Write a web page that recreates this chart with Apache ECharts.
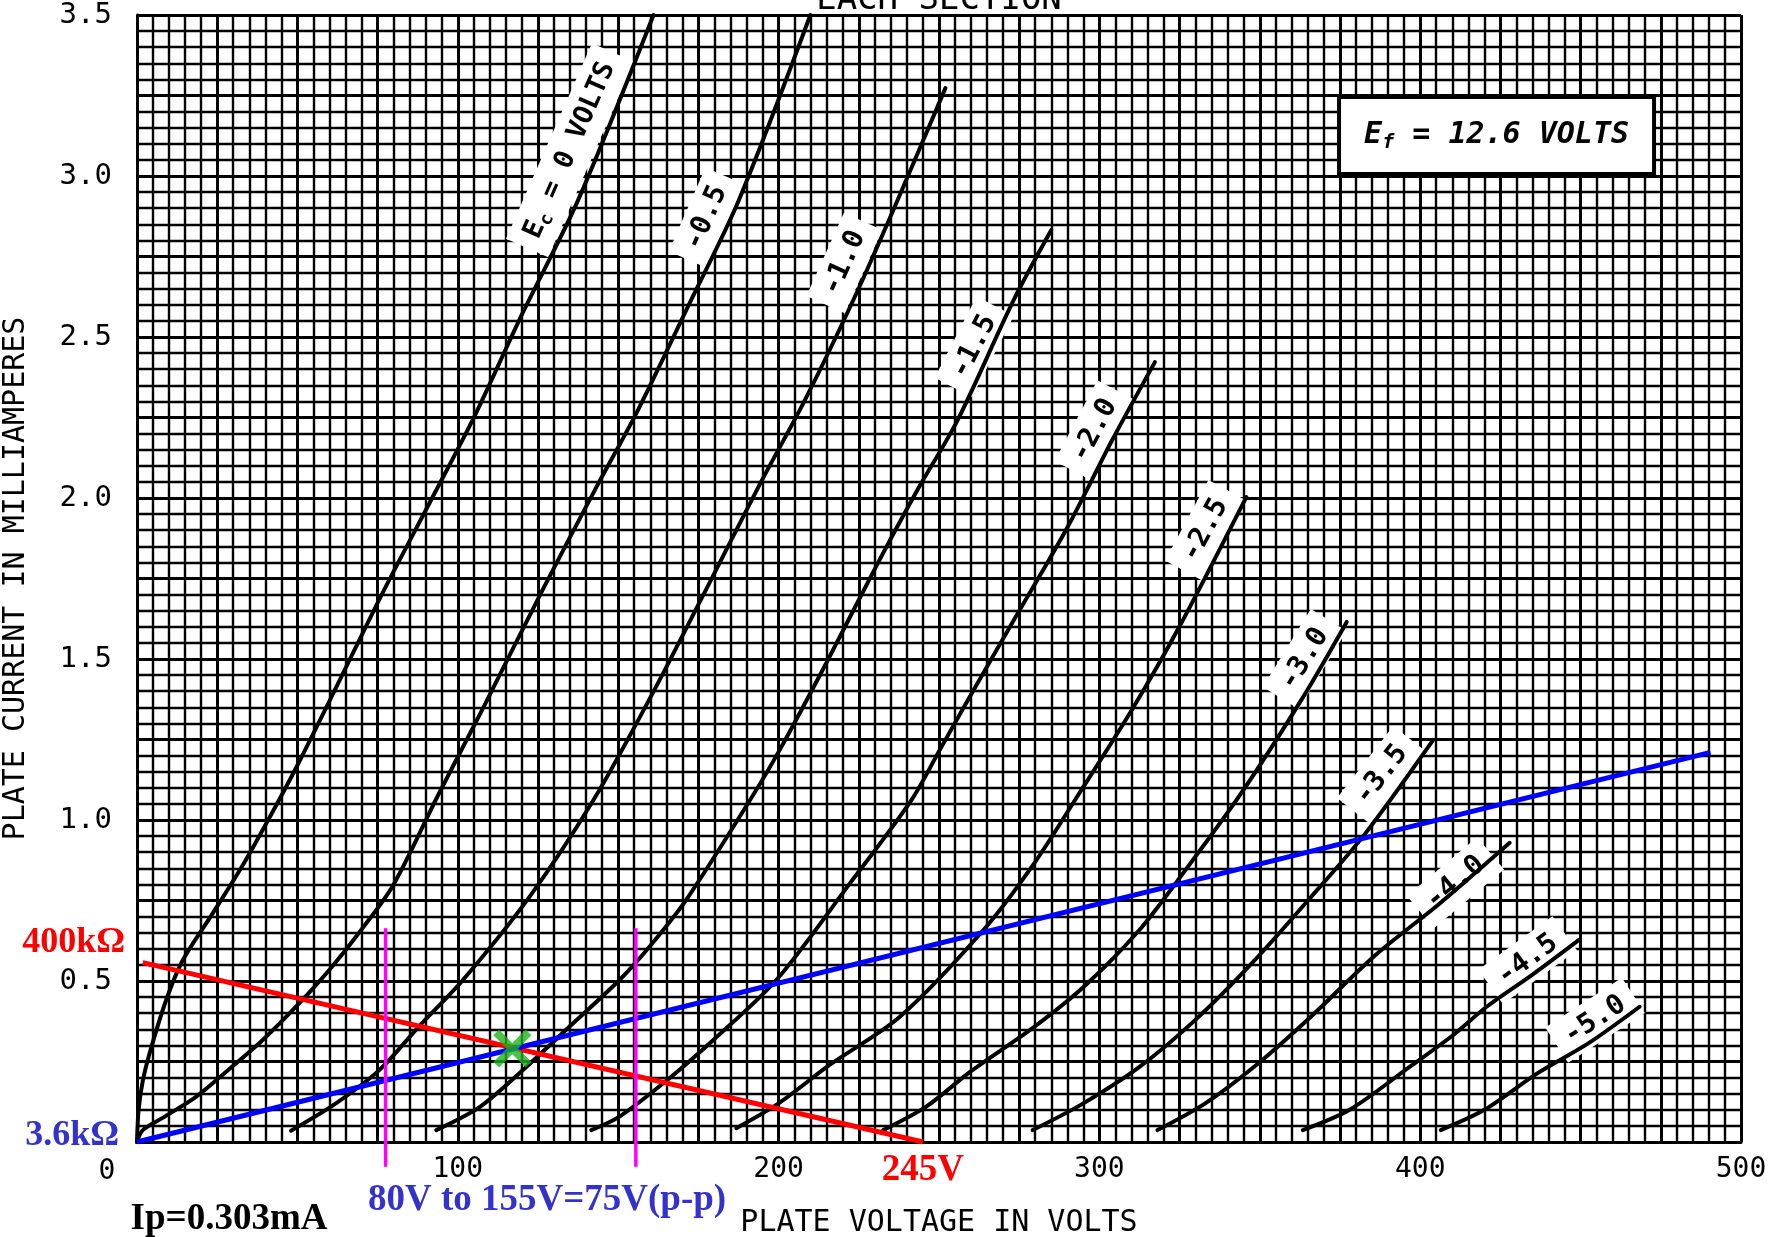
<!DOCTYPE html>
<html><head><meta charset="utf-8">
<script src="https://cdn.jsdelivr.net/npm/echarts@6/dist/echarts.min.js"></script>
<style>html,body{margin:0;padding:0;background:#fff}#c{width:1782px;height:1237px}</style>
</head><body><div id="c"></div>
<script>
// ---------------- data ----------------
const xTickLabels = [100, 200, 300, 400, 500];
const yTickLabels = [0.5, 1.0, 1.5, 2.0, 2.5, 3.0, 3.5];
const curveNames = ['E_c = 0 VOLTS', '-0.5', '-1.0', '-1.5', '-2.0', '-2.5', '-3.0', '-3.5', '-4.0', '-4.5', '-5.0'];

const ec0   = [[0,0],[0.5,0.1],[1.8,0.19],[3.9,0.275],[9.1,0.441],[14.3,0.565],[23.6,0.71],[33,0.86],[42,1.02],[50,1.17],[62,1.41],[77,1.714],[92,2.0],[105.5,2.26],[120,2.57],[137.5,2.925],[161,3.5]];
const ecM05 = [[0,0],[1.8,0.037],[8,0.075],[18.5,0.141],[28,0.22],[39.2,0.317],[50,0.425],[60,0.535],[70,0.66],[80,0.8],[94,1.08],[108,1.35],[126.4,1.714],[143,2.03],[156,2.27],[172,2.6],[187.6,2.925],[209.9,3.5]];
const ecM10 = [[48,0.035],[62,0.12],[75.6,0.224],[88,0.36],[101.6,0.503],[122.4,0.762],[142.3,1.062],[160,1.38],[177.3,1.714],[194,2.04],[208,2.3],[223.3,2.615],[236,2.9],[252,3.273]];
const ecM15 = [[93.3,0.037],[107,0.11],[121,0.23],[135,0.36],[150.4,0.503],[159.8,0.607],[171.2,0.752],[191.1,1.062],[200.3,1.217],[215,1.49],[230,1.78],[243,2.02],[255.8,2.242],[273.3,2.615],[285,2.832]];
const ecM20 = [[141.6,0.037],[150.4,0.079],[165,0.19],[180,0.32],[199.3,0.503],[222,0.8],[241.4,1.062],[250.2,1.217],[260,1.39],[273.3,1.62],[290.1,1.91],[304,2.18],[317.3,2.422]];
const ecM25 = [[186.8,0.043],[200,0.12],[216,0.24],[237.8,0.389],[264,0.66],[280,0.87],[292.9,1.07],[310,1.34],[324.9,1.6],[345.8,2.003]];
const ecM30 = [[232.6,0.037],[246,0.11],[260,0.22],[280,0.36],[296,0.49],[312.6,0.66],[325,0.82],[344,1.08],[363.4,1.38],[377.1,1.615]];
const ecM35 = [[279.2,0.037],[295,0.12],[312.6,0.234],[330,0.38],[348,0.56],[365,0.75],[382.5,0.953],[404,1.248]];
const ecM40 = [[318.1,0.037],[333,0.12],[349,0.24],[366,0.39],[386,0.58],[406,0.74],[427.9,0.929]];
const ecM45 = [[363.4,0.037],[378,0.1],[396.8,0.234],[410,0.33],[420.7,0.42],[435,0.52],[449.4,0.627]];
const ecM50 = [[406.4,0.037],[420,0.1],[436.6,0.214],[452.5,0.307],[468.4,0.42]];

const curveLabelAt = [[135,3.08],[177.5,2.87],[220.5,2.73],[261,2.47],[298.5,2.21],[333,1.9],[364,1.5],[388,1.14],[411,0.805],[433.5,0.565],[454.5,0.378]];

const loadLine400k = [[1.8,0.557],[245,0]];
const acLoadLine   = [[0,0],[490.5,1.21]];
const swingLow     = [[77.5,0.664],[77.5,-0.077]];
const swingHigh    = [[155.5,0.664],[155.5,-0.077]];
const qPoint       = [[117,0.29]];
const efBox        = [[374.7,3.245],[472.9,3.006]];

const efText = '{i|E}{s|f}{i| = 12.6 VOLTS}';
const topText = 'EACH SECTION';
const xName = 'PLATE VOLTAGE IN VOLTS';
const yName = 'PLATE CURRENT IN MILLIAMPERES';
const txt400k = '400kΩ';
const txt36k = '3.6kΩ';
const txt245 = '245V';
const txtSwing = '80V to 155V=75V(p-p)';
const txtIp = 'Ip=0.303mA';

// ---------------- chart ----------------
const MONO = '"DejaVu Sans Mono","Liberation Mono",monospace';
const SERIF = '"Liberation Serif","DejaVu Serif",serif';
const curves = [ec0, ecM05, ecM10, ecM15, ecM20, ecM25, ecM30, ecM35, ecM40, ecM45, ecM50];

const chart = echarts.init(document.getElementById('c'), null, {renderer: 'canvas'});

const series = curves.map(d => ({
  type: 'line', data: d, smooth: 0.3, symbol: 'none', silent: true,
  lineStyle: {color: '#000', width: 4, join: 'round', cap: 'round'}, z: 3
}));
series.push({type:'line', data: loadLine400k, symbol:'none', silent:true, lineStyle:{color:'#ff0000', width:5}, z:4});
series.push({type:'line', data: acLoadLine, symbol:'none', silent:true, lineStyle:{color:'#0000ff', width:5}, z:4});
series.push({type:'line', data: swingLow, symbol:'none', silent:true, clip:false, lineStyle:{color:'#ff00ff', width:3.5}, z:4});
series.push({type:'line', data: swingHigh, symbol:'none', silent:true, clip:false, lineStyle:{color:'#ff00ff', width:3.5}, z:4});
series.push({type:'scatter', data: qPoint, silent:true, z:6,
  symbol: 'path://M0,3 L3,0 L10,7 L17,0 L20,3 L13,10 L20,17 L17,20 L10,13 L3,20 L0,17 L7,10 Z',
  symbolSize: 38, itemStyle: {color: '#1db41d'}});

chart.setOption({
  animation: false,
  backgroundColor: '#fff',
  grid: {left: 137, right: 41, top: 15, bottom: 95, outerBoundsMode: 'none', containLabel: false},
  xAxis: {
    type: 'value', min: 0, max: 500, interval: 25,
    name: xName, nameLocation: 'middle', nameGap: 66,
    nameTextStyle: {fontFamily: MONO, fontSize: 30, color: '#000'},
    axisLine: {show: true, onZero: false, lineStyle: {color: '#000', width: 3}},
    axisTick: {show: false},
    axisLabel: {fontFamily: MONO, fontSize: 28, color: '#000', margin: 14,
      formatter: v => (xTickLabels.some(t => Math.abs(t - v) < 1e-6)) ? String(v) : ''},
    splitLine: {show: true, lineStyle: {color: '#000', width: 3}},
    minorTick: {show: false, splitNumber: 5},
    minorSplitLine: {show: true, lineStyle: {color: '#000', width: 2.4}}
  },
  yAxis: {
    type: 'value', min: 0, max: 3.5, interval: 0.25,
    name: yName, nameLocation: 'middle', nameGap: 106, nameRotate: 90,
    nameTextStyle: {fontFamily: MONO, fontSize: 30, color: '#000'},
    axisLine: {show: true, onZero: false, lineStyle: {color: '#000', width: 3}},
    axisTick: {show: false},
    axisLabel: {fontFamily: MONO, fontSize: 29, color: '#000', margin: 25,
      formatter: v => (yTickLabels.some(t => Math.abs(t - v) < 1e-6)) ? v.toFixed(1) : ''},
    splitLine: {show: true, lineStyle: {color: '#000', width: 3}},
    minorTick: {show: false, splitNumber: 5},
    minorSplitLine: {show: true, lineStyle: {color: '#000', width: 2.4}}
  },
  series: series
});

// ---------------- annotations positioned through the axes ----------------
const px = p => chart.convertToPixel({gridIndex: 0}, p);
const g = [];

curveLabelAt.forEach((p, k) => {
  const c = curves[k];
  let j = c.findIndex(q => q[1] >= p[1]);
  if (j < 0) j = c.length - 1;
  const a = px(c[Math.max(0, j - 2)]);
  const b = px(c[Math.min(c.length - 1, j + 1)]);
  const ang = Math.atan2(a[1] - b[1], b[0] - a[0]);
  const pos = px(p);
  const isFirst = k === 0;
  g.push({
    type: 'text', x: pos[0], y: pos[1], rotation: ang, z: 1, silent: true,
    style: isFirst ? {
      text: '{b|E}{s|c}{b| = 0 VOLTS}', x: 0, y: 0, align: 'center', verticalAlign: 'middle',
      backgroundColor: '#fff', padding: [7, 12],
      rich: {
        b: {fontFamily: MONO, fontSize: 27, fontWeight: 'bold', fill: '#000', color: '#000', lineHeight: 32},
        s: {fontFamily: MONO, fontSize: 18, fontWeight: 'bold', fill: '#000', color: '#000', lineHeight: 12, verticalAlign: 'bottom'}
      }
    } : {
      text: curveNames[k], x: 0, y: 0, align: 'center', verticalAlign: 'middle',
      fontFamily: MONO, fontSize: 28, fontWeight: 'bold', fill: '#000',
      backgroundColor: '#fff', padding: [7, 12]
    }
  });
});

// Ef box
const b0 = px(efBox[0]), b1 = px(efBox[1]);
g.push({type: 'rect', z: 1, silent: true,
  shape: {x: b0[0], y: b0[1], width: b1[0] - b0[0], height: b1[1] - b0[1]},
  style: {fill: '#fff', stroke: '#000', lineWidth: 4}});
g.push({type: 'text', z: 1, silent: true, x: (b0[0] + b1[0]) / 2, y: (b0[1] + b1[1]) / 2,
  style: {text: efText, align: 'center', verticalAlign: 'middle',
    rich: {
      i: {fontFamily: MONO, fontSize: 30, fontStyle: 'italic', fontWeight: 'bold', fill: '#000', color: '#000', lineHeight: 34},
      s: {fontFamily: MONO, fontSize: 20, fontStyle: 'italic', fontWeight: 'bold', fill: '#000', color: '#000', lineHeight: 12, verticalAlign: 'bottom'}
    }}});

// top partial caption
const tp = px([250, 3.5]);
g.push({type: 'text', z: 1, silent: true, x: tp[0], y: 0,
  style: {text: topText, align: 'center', verticalAlign: 'middle', fontFamily: MONO, fontSize: 34, fill: '#000'}});

// shared zero
const o = px([0, 0]);
g.push({type: 'text', silent: true, x: o[0] - 30, y: o[1] + 30,
  style: {text: '0', align: 'center', verticalAlign: 'middle', fontFamily: MONO, fontSize: 28, fill: '#000'}});

// red / blue / black notes
const r = px([0, 0.62]);
g.push({type: 'text', silent: true, x: r[0] - 12, y: r[1],
  style: {text: txt400k, align: 'right', verticalAlign: 'middle', fontFamily: SERIF, fontSize: 36, fontWeight: 'bold', fill: '#ff0000'}});
const bl = px([0, 0.02]);
g.push({type: 'text', silent: true, x: bl[0] - 18, y: bl[1],
  style: {text: txt36k, align: 'right', verticalAlign: 'middle', fontFamily: SERIF, fontSize: 36, fontWeight: 'bold', fill: '#3333cc'}});
const v245 = px([245, 0]);
g.push({type: 'text', silent: true, x: v245[0], y: v245[1] + 28,
  style: {text: txt245, align: 'center', verticalAlign: 'middle', fontFamily: SERIF, fontSize: 37, fontWeight: 'bold', fill: '#ff0000'}});
const sw = px([72, 0]);
g.push({type: 'text', silent: true, x: sw[0], y: sw[1] + 58,
  style: {text: txtSwing, align: 'left', verticalAlign: 'middle', fontFamily: SERIF, fontSize: 37, fontWeight: 'bold', fill: '#3333cc'}});
const ip = px([-2, 0]);
g.push({type: 'text', silent: true, x: ip[0], y: ip[1] + 77,
  style: {text: txtIp, align: 'left', verticalAlign: 'middle', fontFamily: SERIF, fontSize: 37, fontWeight: 'bold', fill: '#000'}});

chart.setOption({graphic: g});
</script>
</body></html>
